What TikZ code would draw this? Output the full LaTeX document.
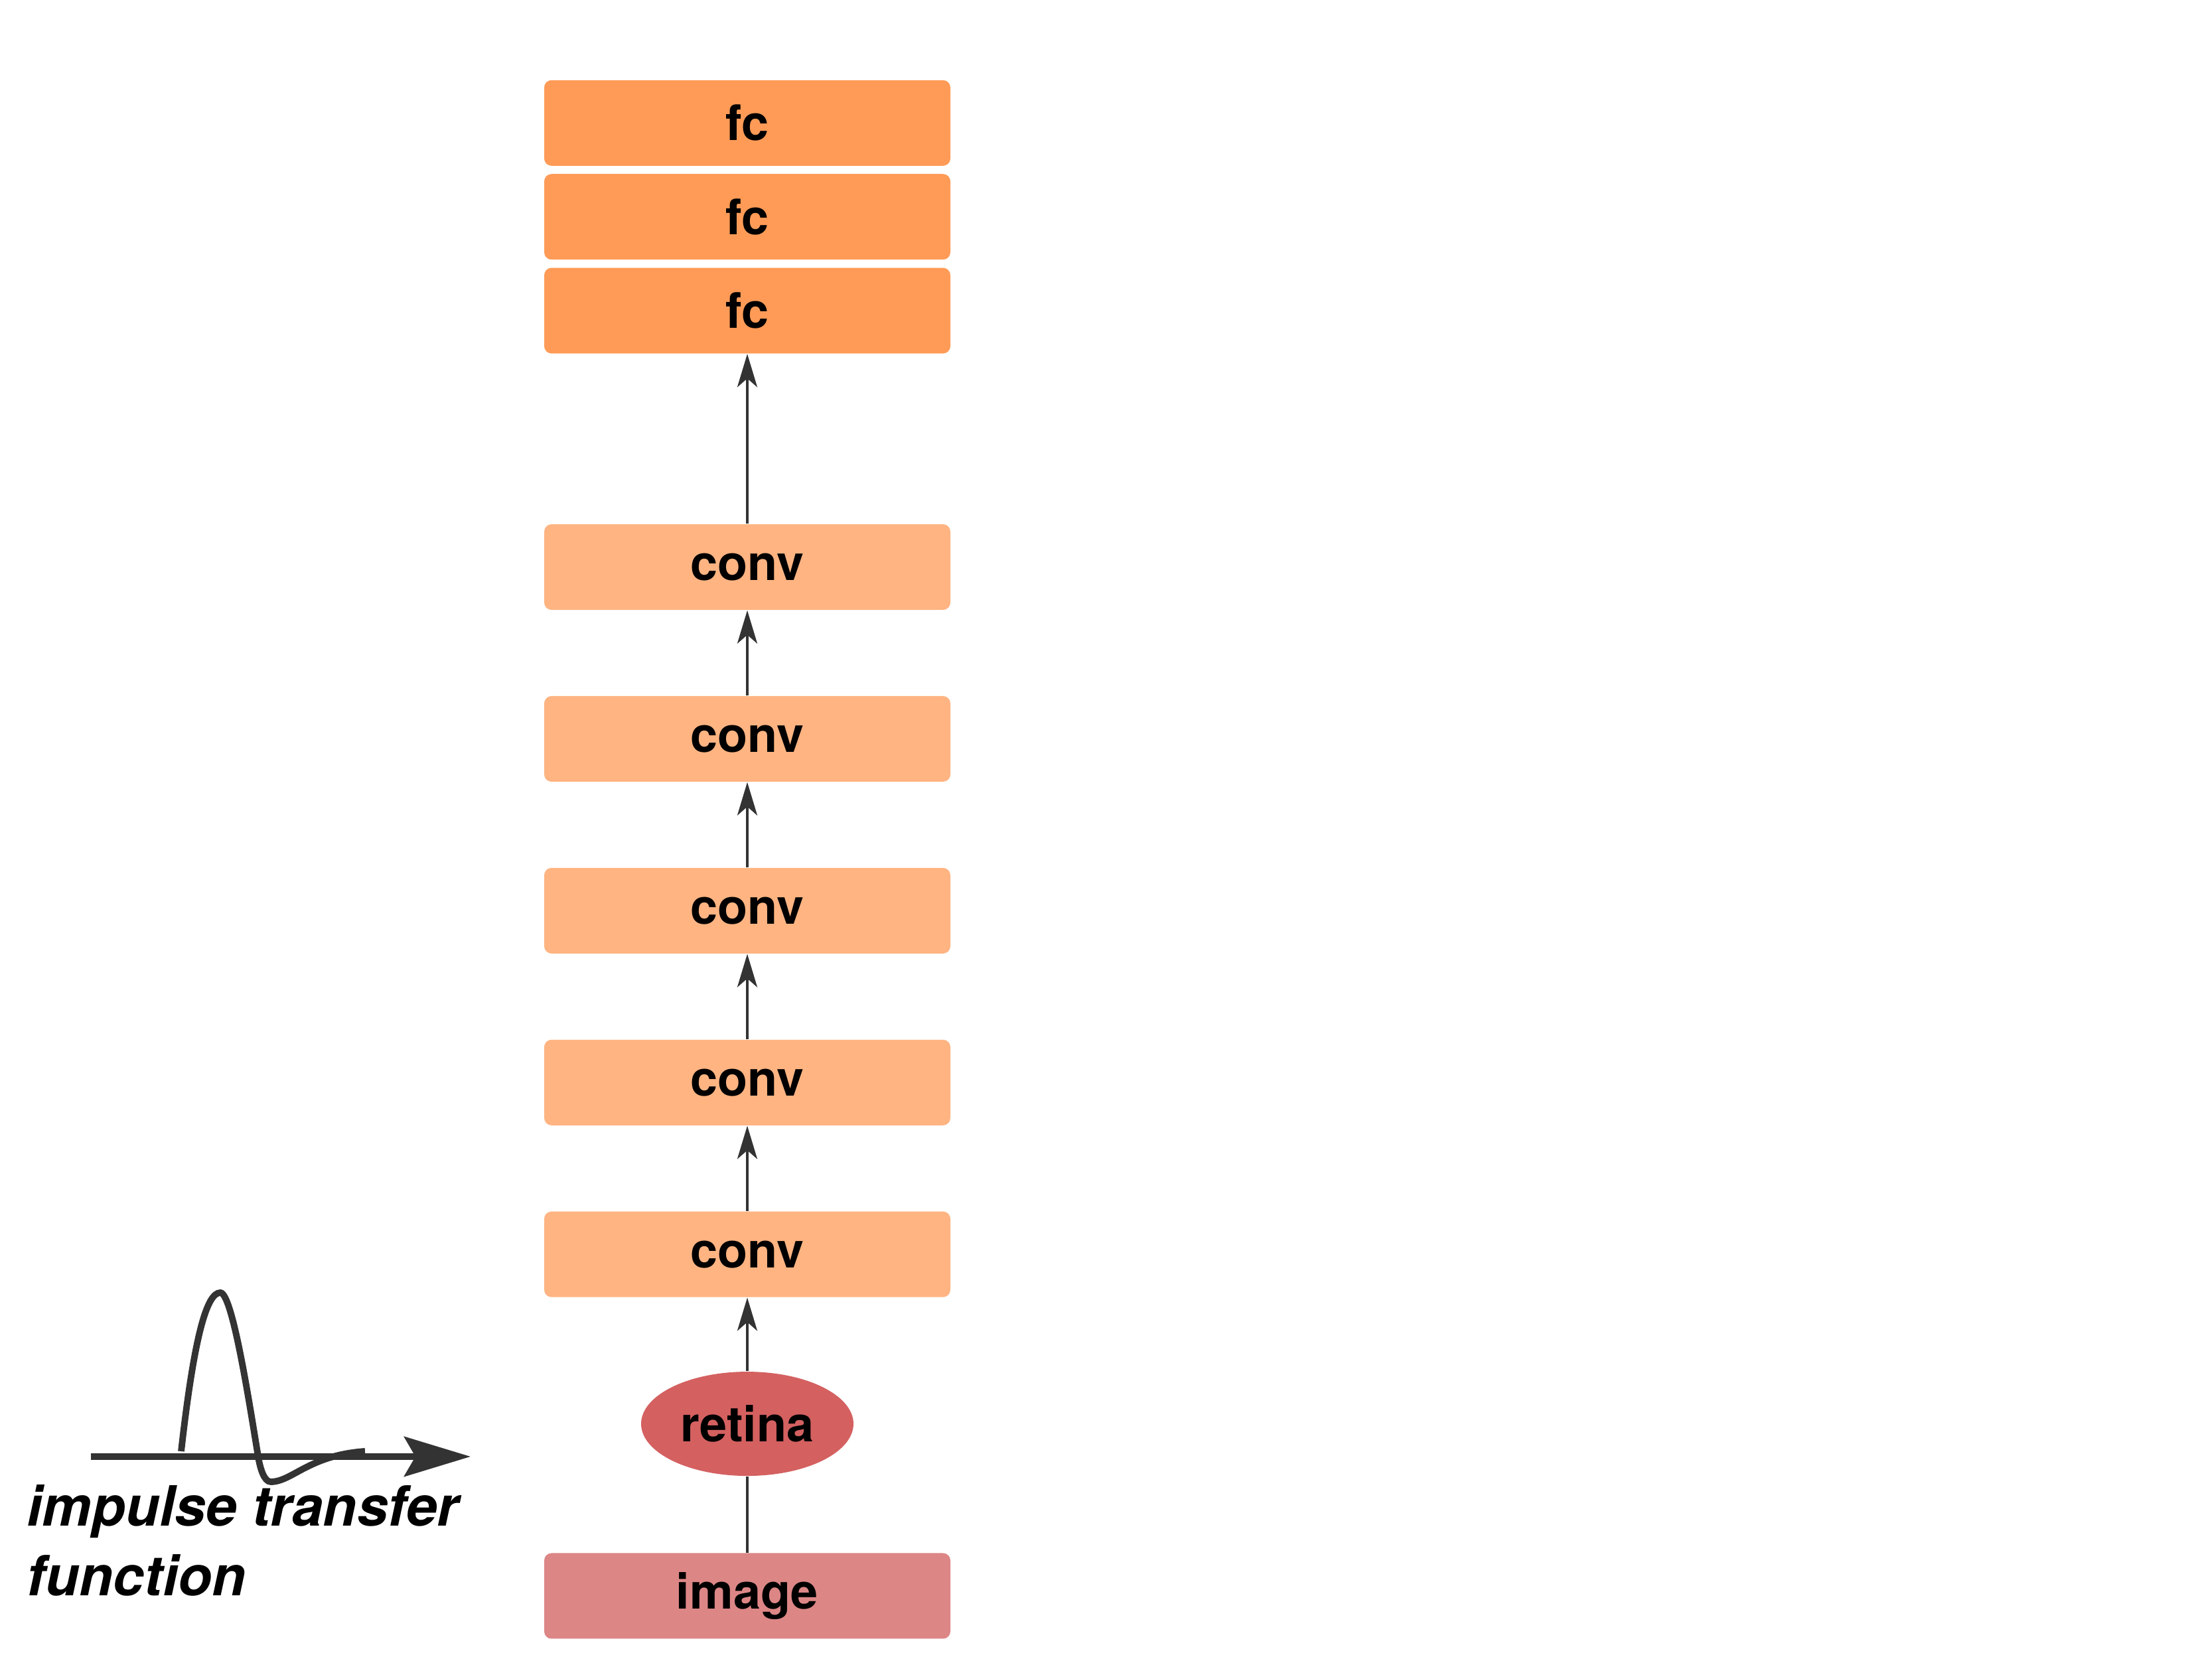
\documentclass[tikz,border=0pt]{standalone}
\usepackage{fontspec}
\setsansfont{TeX Gyre Heros}
\usepackage{tikz}
\usetikzlibrary{shapes,arrows}
\usetikzlibrary{arrows.meta}
\usetikzlibrary{positioning}
\definecolor{fcorange}{HTML}{FF9B57}
\definecolor{convorange}{HTML}{FFB482}
\definecolor{retinared}{HTML}{D46060}
\definecolor{imagered}{HTML}{DD8686}
\definecolor{linegray}{HTML}{333333}
\tikzstyle{layer} = [rectangle, rounded corners=1.1mm, inner sep=0pt,
    minimum height=1.29cm, minimum width=6.12cm,
    font=\fontsize{21}{25}\selectfont\sffamily\bfseries]
\tikzstyle{fclayer} = [layer, fill=fcorange]
\tikzstyle{convlayer} = [layer, fill=convorange]
\tikzstyle{imagelayer} = [layer, fill=imagered]
\tikzstyle{retinalayer} = [ellipse, fill=retinared, inner sep=0pt,
    minimum width=3.2cm, minimum height=1.57cm,
    font=\fontsize{21}{25}\selectfont\sffamily\bfseries]
\tikzstyle{link} = [draw=linegray, line width=1.3pt]
\tikzstyle{impulsecurve} = [draw=linegray, line width=2.8pt]

\begin{document}
\begin{tikzpicture}[>={Stealth[length=5mm,width=3mm,inset=1.3mm]}]
    \useasboundingbox (0,0) rectangle (33.33,25);
    % We start by placing the layers, from the image upwards
    \node [imagelayer] (image) at (11.26,0.95) {image};
    \node [retinalayer, above=1.15cm of image] (retina) {retina};
    \node [convlayer, above=1.11cm of retina] (conv5) {conv};
    \node [convlayer, above=1.285cm of conv5] (conv4) {conv};
    \node [convlayer, above=1.285cm of conv4] (conv3) {conv};
    \node [convlayer, above=1.285cm of conv3] (conv2) {conv};
    \node [convlayer, above=1.285cm of conv2] (conv1) {conv};
    \node [fclayer, above=2.56cm of conv1] (fc3) {fc};
    \node [fclayer, above=0.11cm of fc3] (fc2) {fc};
    \node [fclayer, above=0.11cm of fc2] (fc1) {fc};

    % Then the connections between them
    \draw [link] (image) -- (retina);
    \draw [link,->] (retina) -- (conv5);
    \draw [link,->] (conv5) -- (conv4);
    \draw [link,->] (conv4) -- (conv3);
    \draw [link,->] (conv3) -- (conv2);
    \draw [link,->] (conv2) -- (conv1);
    \draw [link,->] (conv1) -- (fc3);

    % The impulse transfer function sketch
    \coordinate (axisstart) at (1.37,3.05);
    \coordinate (axisend) at (7.09,3.05);
    \draw [impulsecurve, line width=2.6pt,
        -{Stealth[length=10mm,width=6mm,inset=1.7mm]}] (axisstart) -- (axisend);
    \draw [impulsecurve] (2.73,3.13) .. controls (2.93,4.90) and (3.12,5.52) .. (3.32,5.52)
        .. controls (3.50,5.52) and (3.75,3.90) .. (3.89,3.05)
        .. controls (3.92,2.87) and (3.98,2.67) .. (4.08,2.67)
        .. controls (4.40,2.67) and (4.65,3.07) .. (5.50,3.13);
    \node [anchor=base west, align=left, inner sep=0pt,
        font=\fontsize{23.8}{29.9}\selectfont\sffamily\bfseries\itshape]
        (impulse) at (0.40,0.95) {impulse transfer\\function};
\end{tikzpicture}
\end{document}
